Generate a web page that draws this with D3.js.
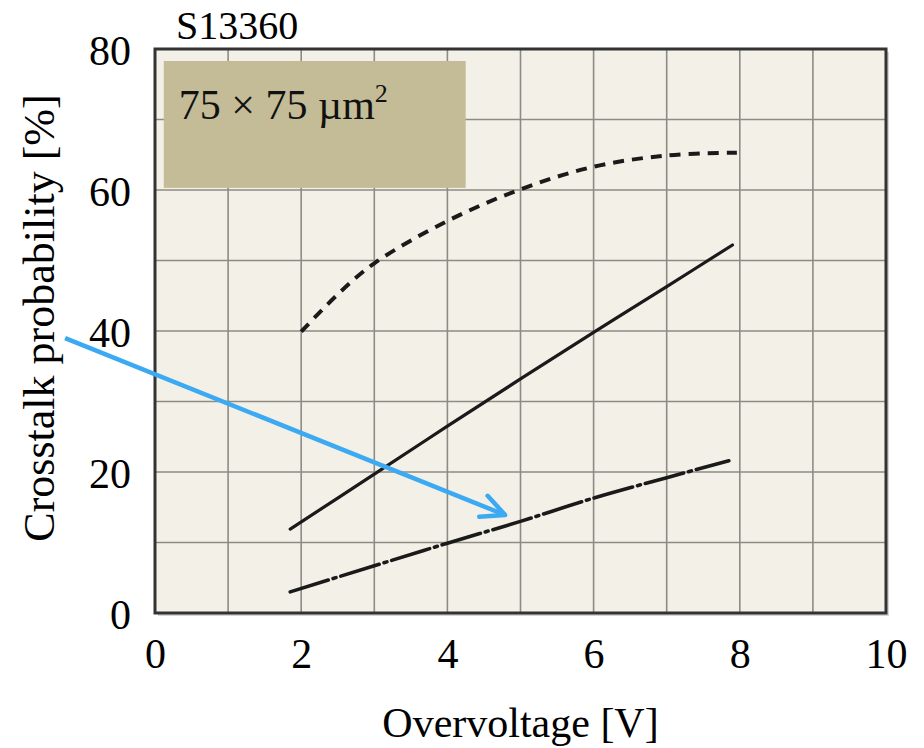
<!DOCTYPE html>
<html>
<head>
<meta charset="utf-8">
<script src="https://cdn.jsdelivr.net/npm/d3@7"></script>
<style>
  html, body { margin: 0; padding: 0; background: #fff; }
  svg { display: block; font-family: "Liberation Serif", "Times New Roman", serif; }
</style>
</head>
<body>
<div id="app"></div>
<script>
const width = 924;
const height = 748;
const margin = { top: 49, right: 38, bottom: 135, left: 155 };

// values [overvoltage V, crosstalk %]
const dashedSeries = [[2.0, 39.9], [2.5, 45.2], [3, 49.6], [4, 55.6], [5, 60.1], [6, 63.3], [7, 64.9], [7.96, 65.3]];
const solidSeries = [[1.85, 11.9], [3, 19.7], [4, 26.5], [5, 33.2], [6, 39.8], [7, 46.3], [7.9, 52.2]];
const dashDotSeries = [[1.85, 3.0], [3, 6.7], [4, 9.9], [5, 13.0], [6, 16.3], [7, 19.2], [7.85, 21.6]];

const xTicks = [0, 2, 4, 6, 8, 10];
const yTicks = [0, 20, 40, 60, 80];
const xGrid = d3.range(0, 11, 1);
const yGrid = d3.range(0, 81, 10);

// annotation arrow, in data units
const arrowFrom = [-1.23, 39.0];
const arrowTo = [4.79, 13.9];
// label box corners, in data units
const boxCorners = [[0.12, 78.3], [4.25, 60.3]];

const x = d3.scaleLinear().domain([0, 10]).range([margin.left, width - margin.right]);
const y = d3.scaleLinear().domain([0, 80]).range([height - margin.bottom, margin.top]);

const svg = d3.select("#app").append("svg")
  .attr("width", width)
  .attr("height", height);

// plot background + shadow
svg.append("rect")
  .attr("x", x(0) + 3).attr("y", y(80) + 3)
  .attr("width", x(10) - x(0)).attr("height", y(0) - y(80))
  .attr("fill", "#d6d6d6");
svg.append("rect")
  .attr("x", x(0)).attr("y", y(80))
  .attr("width", x(10) - x(0)).attr("height", y(0) - y(80))
  .attr("fill", "#f3f0e8");

// grid
svg.append("g").selectAll("line").data(xGrid).join("line")
  .attr("x1", d => x(d)).attr("x2", d => x(d))
  .attr("y1", y(0)).attr("y2", y(80))
  .attr("stroke", "#8f8b84").attr("stroke-width", 1.6);
svg.append("g").selectAll("line").data(yGrid).join("line")
  .attr("x1", x(0)).attr("x2", x(10))
  .attr("y1", d => y(d)).attr("y2", d => y(d))
  .attr("stroke", "#8f8b84").attr("stroke-width", 1.6);

// label box
svg.append("rect")
  .attr("x", x(boxCorners[0][0])).attr("y", y(boxCorners[0][1]))
  .attr("width", x(boxCorners[1][0]) - x(boxCorners[0][0]))
  .attr("height", y(boxCorners[1][1]) - y(boxCorners[0][1]))
  .attr("fill", "#c4bc97");

const boxText = svg.append("text")
  .attr("x", x(boxCorners[0][0]) + 15)
  .attr("y", y(boxCorners[0][1]) + 58)
  .style("font-size", "42px")
  .attr("fill", "#111");
boxText.append("tspan").text("75 × 75 µm");
boxText.append("tspan").attr("dy", -17).style("font-size", "26px").text("2");

// frame
svg.append("rect")
  .attr("x", x(0)).attr("y", y(80))
  .attr("width", x(10) - x(0)).attr("height", y(0) - y(80))
  .attr("fill", "none")
  .attr("stroke", "#333")
  .attr("stroke-width", 3);

const line = d3.line().x(d => x(d[0])).y(d => y(d[1])).curve(d3.curveCatmullRom.alpha(0.5));

svg.append("path").datum(dashedSeries)
  .attr("d", line)
  .attr("fill", "none").attr("stroke", "#1a1a1a")
  .attr("stroke-width", 4).attr("stroke-dasharray", "11 8");

svg.append("path").datum(solidSeries)
  .attr("d", line)
  .attr("fill", "none").attr("stroke", "#1a1a1a")
  .attr("stroke-width", 3.2).attr("stroke-linecap", "round");

svg.append("path").datum(dashDotSeries)
  .attr("d", line)
  .attr("fill", "none").attr("stroke", "#1a1a1a")
  .attr("stroke-width", 3.6).attr("stroke-dasharray", "40 5 3 5")
  .attr("stroke-linecap", "round");

// axis labels
const yAxis = d3.axisLeft(y).tickValues(yTicks).tickSize(0).tickPadding(0);
const yg = svg.append("g").attr("transform", `translate(${x(0) - 24},0)`).call(yAxis);
yg.select(".domain").remove();
yg.selectAll("text")
  .style("font-family", "Liberation Serif, serif")
  .style("font-size", "42px")
  .attr("fill", "#000")
  .attr("dy", "0.36em");

const xAxis = d3.axisBottom(x).tickValues(xTicks).tickSize(0).tickPadding(0);
const xg = svg.append("g").attr("transform", `translate(0,${y(0) + 55})`).call(xAxis);
xg.select(".domain").remove();
xg.selectAll("text")
  .style("font-family", "Liberation Serif, serif")
  .style("font-size", "42px")
  .attr("fill", "#000")
  .attr("dy", 0);

svg.append("text")
  .attr("x", (x(0) + x(10)) / 2)
  .attr("y", 737)
  .attr("text-anchor", "middle")
  .style("font-size", "42px")
  .text("Overvoltage [V]");

svg.append("text")
  .attr("transform", "translate(54,318) rotate(-90)")
  .attr("text-anchor", "middle")
  .style("font-size", "44px")
  .text("Crosstalk probability [%]");

svg.append("text")
  .attr("x", 176)
  .attr("y", 39)
  .style("font-size", "40px")
  .text("S13360");

// blue arrow
const ax0 = x(arrowFrom[0]), ay0 = y(arrowFrom[1]);
const ax1 = x(arrowTo[0]), ay1 = y(arrowTo[1]);
const ang = Math.atan2(ay1 - ay0, ax1 - ax0);
const headLen = 26, headAng = 0.45;
svg.append("path")
  .attr("d", `M${ax0},${ay0}L${ax1},${ay1}`)
  .attr("stroke", "#3ca9f3").attr("stroke-width", 4.5).attr("fill", "none");
svg.append("path")
  .attr("d", `M${ax1 - headLen * Math.cos(ang - headAng)},${ay1 - headLen * Math.sin(ang - headAng)}` +
             `L${ax1},${ay1}` +
             `L${ax1 - headLen * Math.cos(ang + headAng)},${ay1 - headLen * Math.sin(ang + headAng)}`)
  .attr("stroke", "#3ca9f3").attr("stroke-width", 4.5).attr("fill", "none")
  .attr("stroke-linecap", "round").attr("stroke-linejoin", "round");
</script>
</body>
</html>
